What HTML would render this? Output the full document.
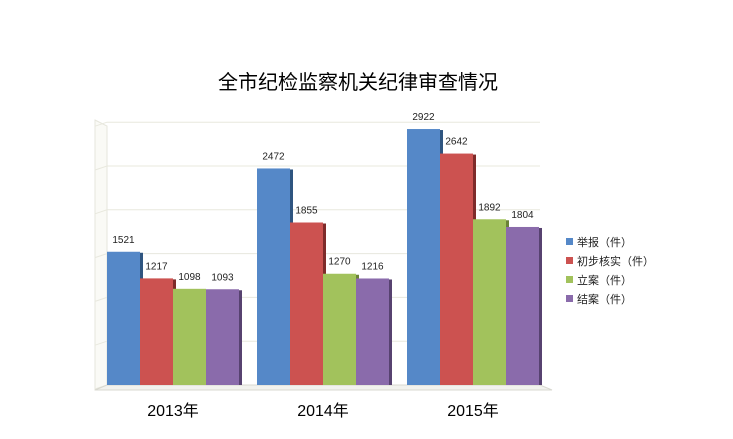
<!DOCTYPE html>
<html><head><meta charset="utf-8"><style>
body{margin:0;background:#fff;font-family:"Liberation Sans","Noto Sans CJK SC",sans-serif}
</style></head><body>
<svg width="733" height="434" viewBox="0 0 733 434" xmlns="http://www.w3.org/2000/svg" style="font-family:'Liberation Sans','Noto Sans CJK SC',sans-serif">
<text x="358" y="89" text-anchor="middle" font-size="20" fill="#000">全市纪检监察机关纪律审查情况</text>
<g id="grid"></g><g id="bars"></g><g id="labels"></g><g id="legend"></g>
</svg>
<script>
const categories=["2013年","2014年","2015年"];
const seriesNames=["举报（件）","初步核实（件）","立案（件）","结案（件）"];
const report=[1521,2472,2922];
const verify=[1217,1855,2642];
const filed=[1098,1270,1892];
const closed=[1093,1216,1804];
const gridTicks=[0,500,1000,1500,2000,2500,3000];
const series=[report,verify,filed,closed];
const colors=["#5588c8","#cc5250","#a2c25c","#8a6bab"];
const dark=["#2f5580","#7e2b2a","#6a8236","#574270"];
const NS="http://www.w3.org/2000/svg";
const base=385, k=0.0876;
function y(v){return base-v*k;}
function gx(i){return 107+i*150;}
const bw=33;
function mk(t,a,p){const e=document.createElementNS(NS,t);for(const q in a)e.setAttribute(q,a[q]);p.appendChild(e);return e;}
const G=document.getElementById('grid');
// walls
const w=mk('path',{d:"M95 120 L107 126 L107 "+base+" L95 390 Z",fill:"#fafaf6",stroke:"#e6e6dc"},G);


gridTicks.forEach(t=>{
 const l=mk('path',{d:`M95 ${y(t)+4} L107 ${y(t)} L540 ${y(t)}`,fill:"none",stroke:"#e8e8de","stroke-width":1},G);
 
 
});
const fl=mk('path',{d:`M95 390 L107 ${base} L540 ${base} L552 390 Z`,fill:"#f2f2ee",stroke:"#d8d8d0"},G);


const B=document.getElementById('bars'),L=document.getElementById('labels');
categories.forEach((c,i)=>{
 series.forEach((s,j)=>{
  const x=gx(i)+j*bw, top=y(s[i]);
  const sd=mk('rect',{x:x+bw-1,y:top+1,width:4,height:base-top-1,fill:dark[j]},B);
  
  
  const r=mk('rect',{x:x,y:top,width:bw,height:base-top,fill:colors[j]},B);
  
  
  const t=mk('text',{x:x+bw/2,y:top-9,"text-anchor":"middle","font-size":10,fill:"#222"},L);
  t.textContent=s[i];
  
  
 });
 const ct=mk('text',{x:gx(i)+66,y:416,"text-anchor":"middle","font-size":16,fill:"#000"},L);
 ct.textContent=c;
 
 
});
const LG=document.getElementById('legend');
seriesNames.forEach((n,j)=>{
 const yy=243+j*19;
 const g=mk('g',{},LG);
 
 
 mk('rect',{x:566,y:yy-5,width:7,height:7,fill:colors[j]},g);
 const t=mk('text',{x:577,y:yy+3,"font-size":11,fill:"#222"},g);
 t.textContent=n;
});
</script>
</body></html>
